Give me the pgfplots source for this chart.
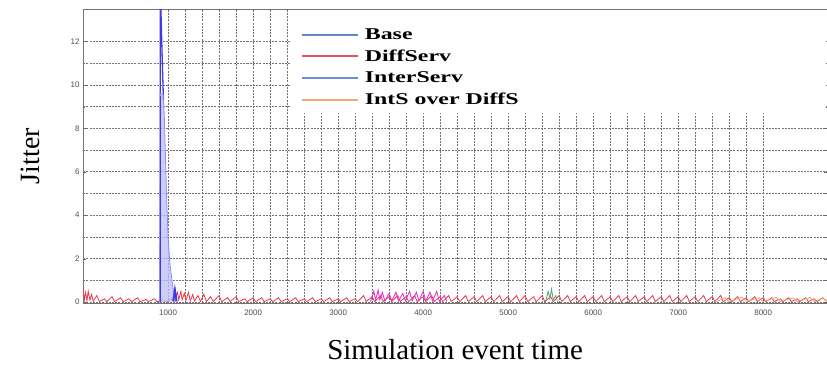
\documentclass[border=0pt]{standalone}
\usepackage{fontspec}
\setmainfont{Liberation Serif}
\setsansfont{Liberation Sans}
\newfontfamily\legfont[FakeStretch=1.45]{Liberation Serif}
\usepackage{pgfplots}
\pgfplotsset{compat=1.18}
\definecolor{baseblue}{RGB}{60,60,225}
\definecolor{interblue}{RGB}{140,140,245}
\definecolor{interfill}{RGB}{190,190,252}
\definecolor{diffred}{RGB}{230,60,80}
\definecolor{magen}{RGB}{225,60,200}
\definecolor{intsorange}{RGB}{235,165,110}
\definecolor{greenish}{RGB}{90,160,120}
\definecolor{legbase}{RGB}{100,135,195}
\definecolor{legred}{RGB}{225,80,95}
\definecolor{leginter}{RGB}{110,140,215}
\definecolor{legorange}{RGB}{240,170,120}
\begin{document}
\begin{tikzpicture}
\begin{axis}[
  name=ax,
  scale only axis,
  width=743bp, height=294bp,
  xmin=0, xmax=8750, ymin=-0.06, ymax=13.5,
  xtick={1000,2000,...,8000},
  ytick={0,2,...,12},
  minor x tick num=4,
  minor y tick num=1,
  grid=both,
  grid style={black!55, dash pattern=on 2bp off 1.2bp, line width=0.8bp},
  major grid style={black!55, dash pattern=on 2bp off 1.2bp, line width=0.8bp},
  axis line style={black!55, line width=1bp},
  tick style={black!60},
  major tick length=3bp, minor tick length=2bp,
  scaled x ticks=false,
  /pgf/number format/assume math mode=true,
  /pgf/number format/1000 sep={},
  tick label style={font=\sffamily\fontsize{8}{8}\selectfont, text=black!70},
  xticklabel style={yshift=-3bp},
  xlabel={Simulation event time},
  ylabel={Jitter},
  xlabel style={font=\fontsize{29}{29}\selectfont, at={(axis description cs:0.5,0)}, anchor=north, yshift=-32bp},
  ylabel style={font=\fontsize{28}{28}\selectfont, at={(axis description cs:0,0.5)}, anchor=south, yshift=40bp},
  legend style={at={(rel axis cs:0.287,0.955)}, anchor=north west, draw=none, fill=none,
    font=\legfont\bfseries\fontsize{16.5}{16.5}\selectfont, row sep=5bp, inner sep=4bp,
    nodes={inner xsep=6bp}},
  legend cell align=left,
  clip=true,
]
% white legend area
\fill[white] (rel axis cs:0.279,0.997) rectangle (rel axis cs:0.999,0.648);

% Base dark spike
\addplot[baseblue, line width=1.3bp,
  legend image code/.code={\draw[legbase, line width=2bp] (0bp,0bp) -- (56bp,0bp);}] coordinates {
(880,0.02)(903,0.02)(906,0.5)(908,15)(915,13.5)(932,11)(945,9.3)
};
\addlegendentry{Base}

% DiffServ red noise
\addplot[diffred, line width=0.8bp,
  legend image code/.code={\draw[legred, line width=2bp] (0bp,0bp) -- (56bp,0bp);}] coordinates {
(0,0.6)(15,0.1)(30,0.45)(45,0.05)(60,0.5)(80,0.1)(100,0.35)(120,0.03)(160,0.3)(190,0.03)(250,0.15)(280,0.02)(340,0.25)(370,0.02)(440,0.2)(470,0.02)(540,0.15)(570,0.02)(640,0.2)(670,0.02)(740,0.12)(770,0.02)(840,0.15)(870,0.02)(940,0.1)(970,0.02)(1040,0.15)(1070,0.02)(1110,0.45)(1125,0.1)(1150,0.5)(1165,0.1)(1190,0.4)(1210,0.08)(1240,0.45)(1260,0.05)(1290,0.35)(1310,0.05)(1350,0.3)(1380,0.03)(1420,0.35)(1450,0.03)(1500,0.25)(1530,0.02)(1600,0.3)(1630,0.02)(1700,0.2)(1730,0.02)(1800,0.25)(1830,0.02)(1900,0.15)(1930,0.02)(2000,0.2)(2030,0.02)(2100,0.2)(2130,0.02)(2200,0.15)(2230,0.02)(2300,0.2)(2330,0.02)(2400,0.15)(2430,0.02)(2500,0.2)(2530,0.02)(2600,0.15)(2630,0.02)(2700,0.2)(2730,0.02)(2800,0.15)(2830,0.02)(2900,0.2)(2930,0.02)(3000,0.15)(3030,0.02)(3100,0.2)(3130,0.02)(3200,0.15)(3230,0.02)(3300,0.3)(3330,0.02)(3400,0.25)(3430,0.02)(3500,0.3)(3530,0.02)(3600,0.25)(3630,0.02)(3700,0.3)(3730,0.02)(3800,0.25)(3830,0.02)(3900,0.3)(3930,0.02)(4000,0.25)(4030,0.02)(4100,0.3)(4130,0.02)(4200,0.25)(4230,0.02)(4300,0.3)(4330,0.02)(4400,0.25)(4430,0.02)(4500,0.3)(4530,0.02)(4600,0.25)(4630,0.02)(4700,0.3)(4730,0.02)(4800,0.25)(4830,0.02)(4900,0.3)(4930,0.02)(5000,0.25)(5030,0.02)(5100,0.3)(5130,0.02)(5200,0.3)(5230,0.02)(5300,0.25)(5330,0.02)(5400,0.3)(5430,0.02)(5500,0.25)(5530,0.02)(5600,0.3)(5630,0.02)(5700,0.3)(5730,0.02)(5800,0.25)(5830,0.02)(5900,0.3)(5930,0.02)(6000,0.25)(6030,0.02)(6100,0.3)(6130,0.02)(6200,0.25)(6230,0.02)(6300,0.3)(6330,0.02)(6400,0.25)(6430,0.02)(6500,0.3)(6530,0.02)(6600,0.25)(6630,0.02)(6700,0.3)(6730,0.02)(6800,0.25)(6830,0.02)(6900,0.3)(6930,0.02)(7000,0.25)(7030,0.02)(7100,0.3)(7130,0.02)(7200,0.25)(7230,0.02)(7300,0.3)(7330,0.02)(7400,0.25)(7430,0.02)(7500,0.3)(7530,0.02)(7600,0.2)(7630,0.02)(7700,0.25)(7730,0.02)(7800,0.2)(7830,0.02)(7900,0.25)(7930,0.02)(8000,0.2)(8030,0.02)(8100,0.2)(8130,0.02)(8200,0.15)(8230,0.02)(8300,0.2)(8330,0.02)(8400,0.15)(8430,0.02)(8500,0.2)(8530,0.02)(8600,0.15)(8630,0.02)(8700,0.2)(8750,0.02)
};
\addlegendentry{DiffServ}

% InterServ light spike
\addplot[interblue, fill=interfill, fill opacity=0.75, line width=0.8bp,
  legend image code/.code={\draw[leginter, line width=2bp] (0bp,0bp) -- (56bp,0bp);}] coordinates {
(900,0)(906,9.6)(940,9.6)(955,8.6)(970,6.5)(985,4.5)(1000,3)(1020,1.8)(1045,1.0)(1060,0.6)(1075,0.25)(1090,0.02)
};
\addlegendentry{InterServ}

% orange tips
\addplot[intsorange, line width=0.8bp,
  legend image code/.code={\draw[legorange, line width=2bp] (0bp,0bp) -- (56bp,0bp);}] coordinates {
(7450,0.02)(7550,0.2)(7600,0.02)(7750,0.22)(7800,0.02)(7950,0.2)(8000,0.02)(8150,0.22)(8200,0.02)(8350,0.2)(8400,0.02)(8550,0.22)(8600,0.02)(8700,0.18)(8750,0.02)
};
\addlegendentry{IntS over DiffS}

% magenta overlap region
\addplot[magen, line width=0.9bp, forget plot] coordinates {
(3380,0.02)(3420,0.5)(3440,0.1)(3470,0.55)(3490,0.1)(3520,0.45)(3550,0.05)(3600,0.4)(3630,0.05)(3680,0.45)(3710,0.05)(3760,0.4)(3790,0.05)(3840,0.5)(3870,0.05)(3920,0.45)(3950,0.05)(4000,0.5)(4030,0.05)(4080,0.45)(4110,0.05)(4160,0.5)(4190,0.03)(4250,0.3)(4280,0.02)
};
% green small spikes
\addplot[greenish, line width=0.8bp, forget plot] coordinates {
(5440,0.02)(5470,0.5)(5490,0.15)(5510,0.6)(5530,0.1)(5560,0.3)(5580,0.02)
};
% Base left edge and blob
\addplot[baseblue, line width=1bp, forget plot] coordinates {
(906,0)(906,9.5)
};
\addplot[baseblue, line width=2bp, forget plot] coordinates {
(1060,0.05)(1070,0.3)(1080,0.55)(1090,0.3)(1100,0.03)
};
\end{axis}
\pgfresetboundingbox
\path (ax.south west) ++(-83bp,-61bp) coordinate (bl);
\path (ax.north east) ++(0bp,9bp) coordinate (tr);
\path[use as bounding box] (bl) rectangle (tr);
\end{tikzpicture}
\end{document}
